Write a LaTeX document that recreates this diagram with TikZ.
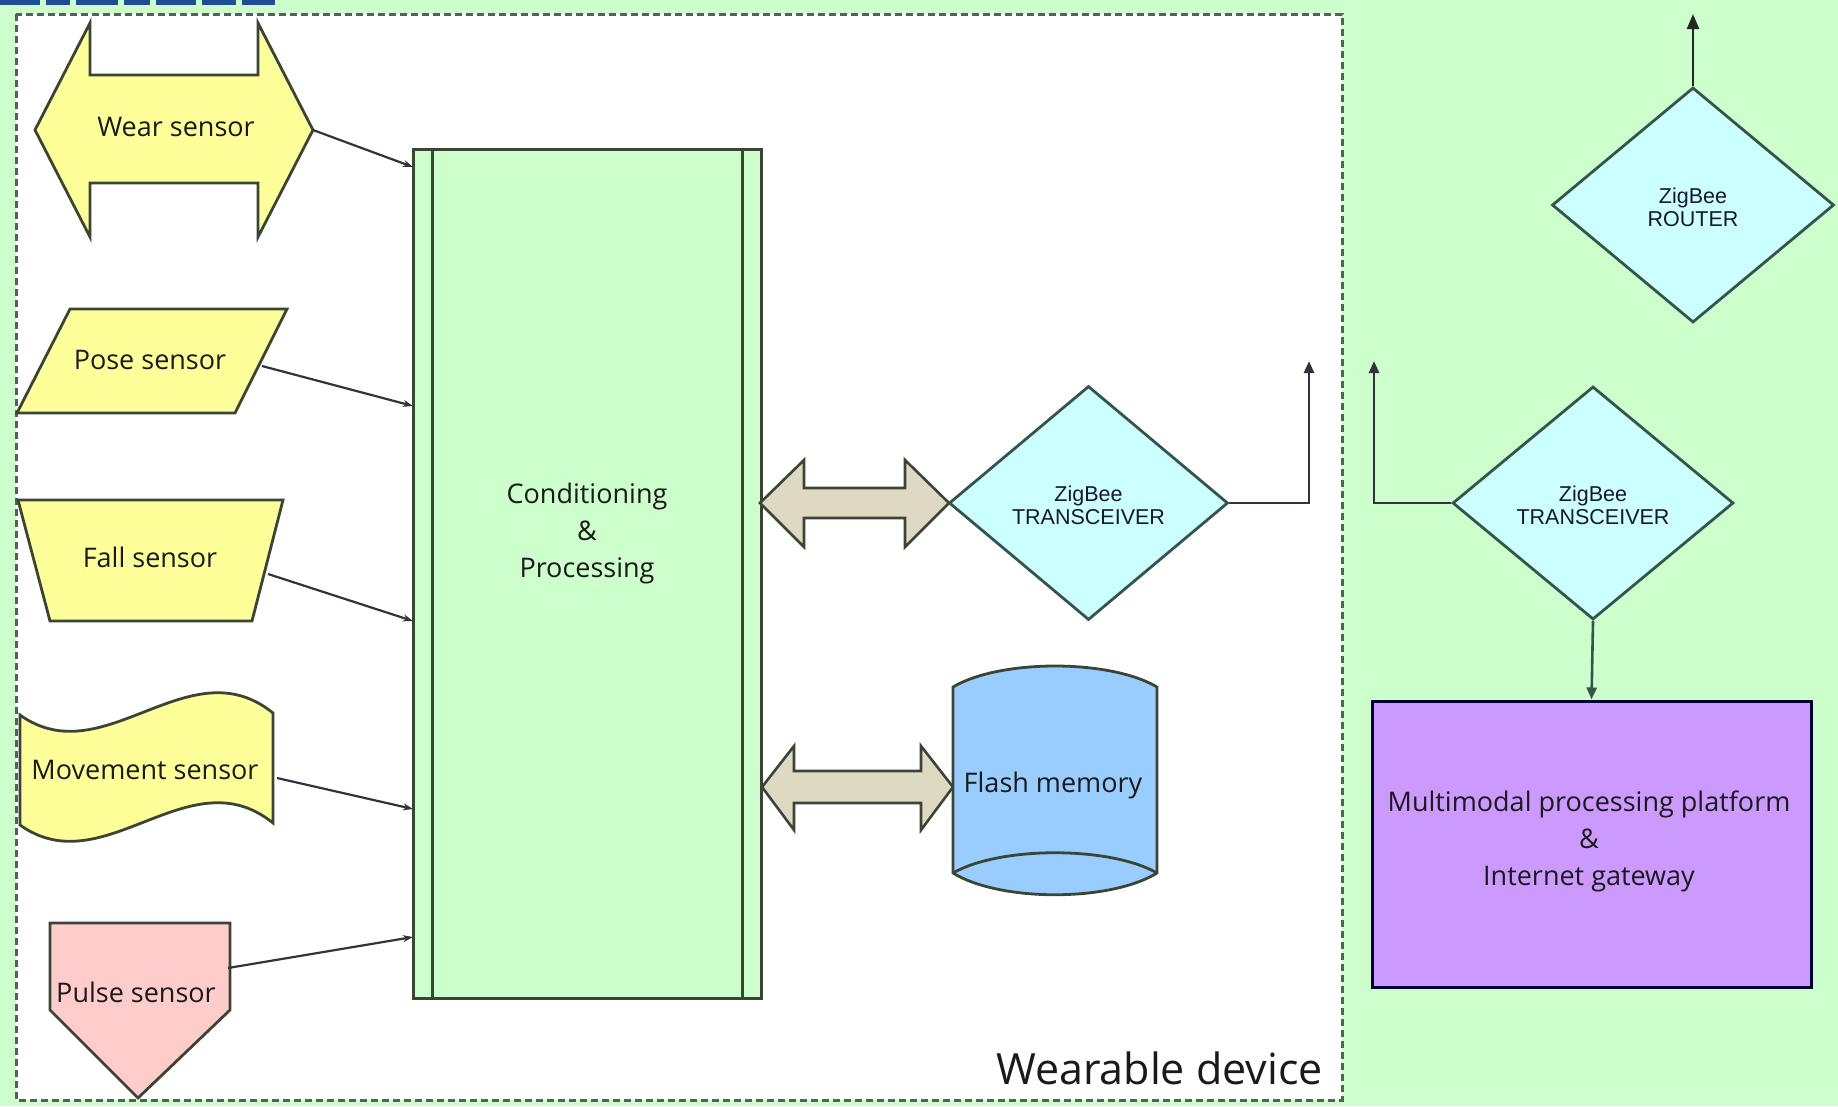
\documentclass[tikz,border=0pt]{standalone}
\usepackage{fontspec}
\setmainfont{Open Sans}
\newfontfamily\arialfont{Liberation Sans}
\usetikzlibrary{shapes.geometric, arrows.meta}
\definecolor{bggreen}{HTML}{CCFFCC}
\definecolor{sensoryellow}{HTML}{FFFF99}
\definecolor{pulsepink}{HTML}{FFCCCC}
\definecolor{zigcyan}{HTML}{CCFFFF}
\definecolor{flashblue}{HTML}{99CCFF}
\definecolor{gwpurple}{HTML}{CC99FF}
\definecolor{busgray}{HTML}{DDD9C3}
\definecolor{edgedark}{HTML}{3A4633}
\definecolor{linkdark}{HTML}{33333F}
\definecolor{titleblue}{HTML}{1F4E96}
\definecolor{dashgray}{HTML}{55605A}
\definecolor{diaedge}{HTML}{35544A}
\definecolor{textdark}{HTML}{1A1A1A}
\tikzset{
  shapeedge/.style={draw=edgedark, line width=2.8pt, line join=miter},
  sensorshape/.style={shapeedge, fill=sensoryellow},
  lbl/.style={font=\fontsize{27}{37}\selectfont, text=textdark, align=center, inner sep=0pt},
  ziglbl/.style={font=\arialfont\fontsize{21.5}{23}\selectfont, text=textdark!90!blue, align=center},
  zigdiamond/.style={diamond, draw=diaedge, fill=zigcyan, line width=2.8pt, inner sep=0pt},
  sensorlink/.style={draw=linkdark, line width=2.2pt, -{Stealth[length=10pt,width=7pt]}},
  uplink/.style={draw=linkdark, line width=2.6pt, -{Triangle[length=12pt,width=10pt]}},
  busarrow/.style={draw=edgedark, line width=2.6pt, fill=busgray, line join=miter},
}
\begin{document}
\begin{tikzpicture}[x=1pt,y=-1pt]
\useasboundingbox (0,0) rectangle (1838,1106);
% backgrounds
\fill[bggreen] (0,0) rectangle (1838,1106);
\fill[white] (16,14) rectangle (1342,1100);
\draw[dashgray, line width=3pt, dash pattern=on 7pt off 4pt] (16,14) rectangle (1342,1100);
% cut-off title fragments
\foreach \a/\b in {0/40,46/70,76/118,124/150,156/196,202/236,242/275}
  \fill[titleblue] (\a,0) rectangle (\b,5);

% ---- Wear sensor (double arrow)
\path[sensorshape] (35,130) -- (90,23) -- (90,75) -- (258,75) -- (258,23) -- (313,130)
  -- (258,237) -- (258,183) -- (90,183) -- (90,237) -- cycle;
\node[lbl] (wear) at (176,127) {Wear sensor};
\coordinate (wearout) at (313,130);

% ---- Pose sensor (parallelogram)
\path[sensorshape] (70,309) -- (287,309) -- (235,413) -- (17,413) -- cycle;
\node[lbl] (pose) at (150,360) {Pose sensor};
\coordinate (poseout) at (262,366);

% ---- Fall sensor (trapezium)
\path[sensorshape] (18,500) -- (283,500) -- (252,621) -- (50,621) -- cycle;
\node[lbl] (fall) at (150,557) {Fall sensor};
\coordinate (fallout) at (268,574);

% ---- Movement sensor (wave)
\path[sensorshape] (20,715) .. controls (104,775) and (189,645) .. (273,713)
  -- (273,823) .. controls (189,755) and (104,885) .. (20,825) -- cycle;
\node[lbl] (move) at (145,770) {Movement sensor};
\coordinate (moveout) at (277,778);

% ---- Pulse sensor (pentagon)
\path[shapeedge, fill=pulsepink] (50,923) -- (230,923) -- (230,1010) -- (138,1098) -- (50,1010) -- cycle;
\node[lbl] (pulse) at (136,992) {Pulse sensor};
\coordinate (pulseout) at (228,968);

% ---- Conditioning & Processing
\node[draw=edgedark, fill=bggreen, line width=3pt, minimum width=348pt, minimum height=849pt, inner sep=0pt] (cp) at (587,573.5) {};
\draw[edgedark, line width=2.8pt] ([xshift=21pt]cp.north west) -- ([xshift=21pt]cp.south west);
\draw[edgedark, line width=2.8pt] ([xshift=-20pt]cp.north east) -- ([xshift=-20pt]cp.south east);
\node[lbl] (cptext) at (587,533) {Conditioning\\\&\\Processing};
\coordinate (cpA) at (413,167);
\coordinate (cpB) at (413,406);
\coordinate (cpC) at (413,621);
\coordinate (cpD) at (413,809);
\coordinate (cpE) at (413,937);

\draw[sensorlink] (wearout) -- (cpA);
\draw[sensorlink] (poseout) -- (cpB);
\draw[sensorlink] (fallout) -- (cpC);
\draw[sensorlink] (moveout) -- (cpD);
\draw[sensorlink] (pulseout) -- (cpE);

% ---- bus arrows
\path[busarrow] (760,503) -- (804,460) -- (804,488) -- (905,488) -- (905,460) -- (949,503)
  -- (905,547) -- (905,518) -- (804,518) -- (804,547) -- cycle;
\path[busarrow] (762,787) -- (794,746) -- (794,771) -- (921,771) -- (921,746) -- (953,787)
  -- (921,830) -- (921,803) -- (794,803) -- (794,830) -- cycle;

% ---- ZigBee transceiver (wearable)
\node[zigdiamond, minimum width=279pt, minimum height=234pt] (zt1) at (1088.5,503) {};
\node[ziglbl] (zt1text) at (1088.5,505) {ZigBee\\TRANSCEIVER};
\coordinate (up1) at (1309,361);
\draw[uplink] (zt1.east) -| (up1);

% ---- Flash memory (cylinder)
\path[draw=edgedark, line width=2.8pt, fill=flashblue]
  (953,687) .. controls (1000,659) and (1110,659) .. (1157,687)
  -- (1157,873) .. controls (1110,902) and (1000,902) .. (953,873) -- cycle;
\draw[edgedark, line width=2.8pt] (953,873) .. controls (1000,846) and (1110,846) .. (1157,873);
\node[lbl] (flash) at (1053,785) {Flash memory};

% ---- Wearable device label
\node[font=\fontsize{43}{48}\selectfont, text=textdark, anchor=base east, inner sep=0pt] (wdev) at (1323,1084) {Wearable device};

% ---- Gateway side
\node[zigdiamond, minimum width=281pt, minimum height=233pt] (zt2) at (1593,503) {};
\node[ziglbl] (zt2text) at (1593,505) {ZigBee\\TRANSCEIVER};
\coordinate (up2) at (1374,361);
\draw[uplink] (zt2.west) -| (up2);

\node[zigdiamond, minimum width=282pt, minimum height=235pt] (zr) at (1693,205) {};
\node[ziglbl] (zrtext) at (1693,207) {ZigBee\\ROUTER};
\coordinate (up3) at (1693,14);
\draw[draw=black!85, line width=2.6pt, -{Triangle[length=15pt,width=12pt]}] (zr.north) -- (up3);

\node[draw=black!80!blue, fill=gwpurple, line width=3pt, minimum width=439pt, minimum height=286pt, inner sep=0pt] (gw) at (1591.5,844) {};
\node[lbl] (gwtext) at (1589,841) {Multimodal processing platform\\\&\\Internet gateway};
\draw[draw=diaedge, line width=2.6pt, -{Triangle[length=12pt,width=10pt]}] (zt2.south) -- (gw.north);
\end{tikzpicture}
\end{document}
